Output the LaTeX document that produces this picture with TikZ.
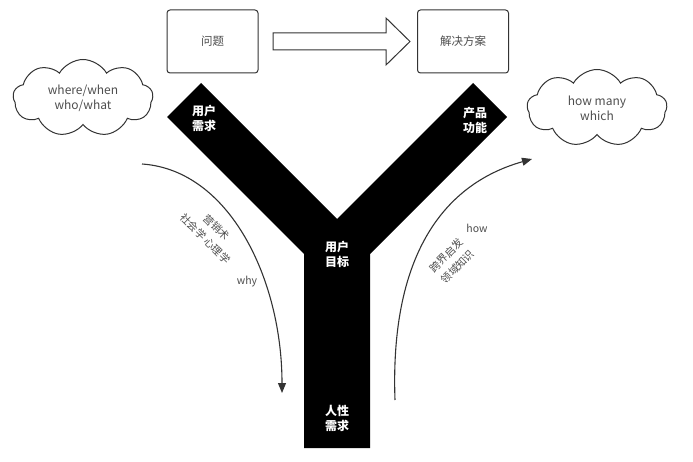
\documentclass[tikz,border=0pt]{standalone}
\usepackage{fontspec}
\setmainfont{Noto Sans CJK SC}
\usetikzlibrary{shapes.symbols,arrows.meta}
\definecolor{linegray}{HTML}{333333}
\definecolor{textgray}{HTML}{4D4D4D}

\begin{document}
\begin{tikzpicture}[x=1pt,y=-1pt,
  box/.style={draw=linegray, line width=1pt, rounded corners=3pt, minimum width=91pt, minimum height=63pt, text=textgray, font=\fontsize{11.5}{14}\selectfont},
  thought/.style={cloud, draw=linegray, line width=1pt, cloud puffs=9, cloud puff arc=120, cloud ignores aspect, minimum width=140pt, minimum height=77pt, align=center, text=textgray, font=\fontsize{12}{15}\selectfont},
  bigarrow/.style={draw=linegray, line width=1pt},
  ylabel/.style={text=white, align=center, font=\bfseries\fontsize{12}{15}\selectfont},
  note/.style={text=textgray, align=center, font=\fontsize{10.5}{16}\selectfont},
  flow/.style={draw=linegray, line width=1.1pt, -{Triangle[length=10pt,width=8pt]}}]
\useasboundingbox (0,0) rectangle (693,462);

% Boxes
\node[box] (problem) at (212.5,41.5) {问题};
\node[box] (solution) at (463,41.5) {解决方案};
\draw[bigarrow] (273,33) -- (386,33) -- (386,18) -- (410,41.5) -- (386,65) -- (386,50) -- (273,50) -- cycle;

% Clouds
\node[thought] (wcloud) at (83,98) {where/when\\who/what};
\node[thought] (hcloud) at (597,108) {how many\\which};

% Y
\fill (167,117) -- (201,83) -- (337,219) -- (473,83) -- (507,117) -- (370,254) -- (370,448) -- (304,448) -- (304,254) -- cycle;
\node[ylabel] (need) at (204,118) {用户\\需求};
\node[ylabel] (feature) at (475,120) {产品\\功能};
\node[ylabel] (goal) at (337,254) {用户\\目标};
\node[ylabel] (human) at (337,418) {人性\\需求};

% Arrows
\coordinate (whyA) at (142,164);
\coordinate (whyB) at (282,393);
\coordinate (howA) at (395,400);
\coordinate (howB) at (532,159);
\draw[flow] (whyA) .. controls (230,170) and (282,280) .. (whyB);
\draw[flow] (howA) .. controls (390,260) and (440,185) .. (howB);

% Labels
\node[note] (why) at (247,282) {why};
\node[note] (how) at (477,228) {how};
\node[note, rotate=-45] (whynote) at (211,233) {营销术\\社会学 心理学};
\node[note, rotate=45] (hownote) at (452,261) {跨界启发\\领域知识};
\end{tikzpicture}
\end{document}
